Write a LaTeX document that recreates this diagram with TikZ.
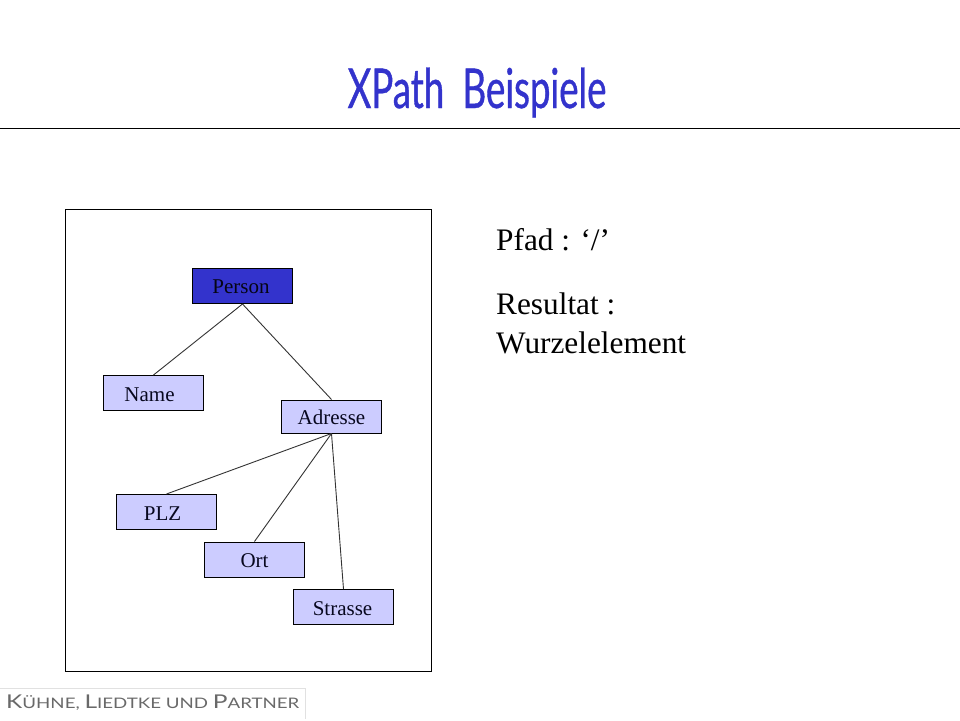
\documentclass[tikz,border=0pt]{standalone}
\usepackage{fontspec}
\setmainfont{Liberation Serif}
\newfontfamily\titlefont[FakeStretch=0.665,FakeBold=0.7]{Lato}
\newfontfamily\footfont[FakeStretch=1.29]{Lato}
\definecolor{boxlight}{RGB}{204,204,255}
\definecolor{boxdark}{RGB}{51,51,204}
\definecolor{foot}{RGB}{105,105,105}
\definecolor{footline}{RGB}{225,225,225}
\newcommand{\lowered}[1]{\raisebox{-1.5pt}[\height][\depth]{#1}}
\newcommand{\lowerless}[1]{\raisebox{-0.7pt}[\height][\depth]{#1}}
\tikzset{x=1pt,y=-1pt,
  treebox/.style={draw=black,line width=1pt,fill=boxlight,minimum width=100pt,minimum height=35pt,inner sep=0pt,font=\fontsize{21}{24}\selectfont,text=black!85!boxdark},
  rootbox/.style={treebox,fill=boxdark,text=black!90!boxdark},
  link/.style={draw=black!80,line width=0.9pt},
  body/.style={anchor=base west,inner sep=0pt,font=\fontsize{31.3}{38}\selectfont}}
\begin{document}
\begin{tikzpicture}
\useasboundingbox (0,0) rectangle (960,720);
\fill[white] (0,0) rectangle (960,720);
\node[anchor=base,inner sep=0pt,text=boxdark,font=\titlefont\fontsize{55}{60}\selectfont] (title) at (477,108) {XPath\hspace{9pt} Beispiele};
\coordinate (ruleL) at (0,128.5);
\coordinate (ruleR) at (960,128.5);
\draw[line width=1pt] (ruleL) -- (ruleR);
\node[draw=black,line width=1pt,minimum width=366pt,minimum height=462pt,inner sep=0pt] (frame) at (248.5,440) {};
\node[rootbox] (person) at (242.5,286) {\hspace{-3pt}\lowerless{Person}};
\node[treebox] (name) at (153.5,393) {\hspace{-8pt}\lowered{Name}};
\node[treebox,minimum height=33pt] (adresse) at (331.5,416.5) {\lowerless{Adresse}};
\node[treebox] (plz) at (166.5,512) {\hspace{-8pt}\lowered{PLZ}};
\node[treebox] (ort) at (254.5,559.5) {\lowered{Ort}};
\node[treebox] (strasse) at (343.5,607) {\hspace{-2pt}\lowered{Strasse}};
\draw[link] (person.south) -- (name.north);
\draw[link] (person.south) -- (adresse.north);
\draw[link] (adresse.south) -- (plz.north);
\draw[link] (adresse.south) -- (ort.north);
\draw[link] (adresse.south) -- (strasse.north);
\node[body] (pfad) at (496,250) {Pfad : ‘/’};
\node[body] (res) at (496,314) {Resultat :};
\node[body] (wurzel) at (496,353) {Wurzelelement};
\node[draw=footline,line width=1pt,minimum width=306pt,minimum height=31pt,inner sep=0pt] (footbox) at (152,704) {};
\fill[white] (0,689) rectangle (0.8,720);
\fill[white] (0,719.2) rectangle (306,720);
\node[anchor=base west,inner sep=0pt,text=foot,font=\footfont] (footer) at (6,708.5) {\fontsize{19}{20}\selectfont K\fontsize{14.5}{20}\selectfont ÜHNE, \fontsize{19}{20}\selectfont L\fontsize{14.5}{20}\selectfont IEDTKE UND \fontsize{19}{20}\selectfont P\fontsize{14.5}{20}\selectfont ARTNER};
\end{tikzpicture}
\end{document}
